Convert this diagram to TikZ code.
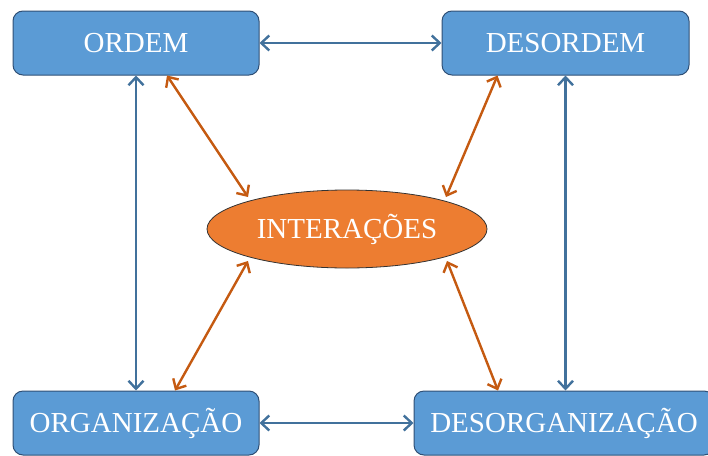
\documentclass[tikz,border=0pt]{standalone}
\usepackage{fontspec}
\setmainfont{Liberation Serif}
\usetikzlibrary{arrows.meta,shapes.geometric}
\definecolor{boxfill}{HTML}{5B9BD5}
\definecolor{boxline}{HTML}{2F4F75}
\definecolor{bluearrow}{HTML}{41719C}
\definecolor{orfill}{HTML}{ED7D31}
\definecolor{orarrow}{HTML}{C55A11}
\begin{document}
\begin{tikzpicture}[x=1pt,y=-1pt,
  box/.style={draw=boxline,line width=1pt,fill=boxfill,rounded corners=10pt,
    minimum height=64pt,inner sep=0pt,text=white,font=\fontsize{29}{32}\selectfont},
  blink/.style={draw=bluearrow,line width=2.4pt,{Straight Barb[length=8pt,width=15pt]}-{Straight Barb[length=8pt,width=15pt]}},
  olink/.style={draw=orarrow,line width=2.4pt,{Straight Barb[length=8pt,width=15pt]}-{Straight Barb[length=8pt,width=15pt]}}]
\useasboundingbox (0,0) rectangle (708,455);
\node[box,minimum width=246pt] (ord) at (136,43) {ORDEM};
\node[box,minimum width=247pt] (des) at (565.5,43) {DESORDEM};
\node[box,minimum width=246pt] (org) at (136,423) {ORGANIZAÇÃO};
\node[box,minimum width=300pt] (dso) at (564,423) {DESORGANIZAÇÃO};
\node[ellipse,draw=black!80,line width=0.8pt,fill=orfill,minimum width=280pt,minimum height=78pt,
  inner sep=0pt,text=white,font=\fontsize{29}{32}\selectfont] (int) at (347,229) {INTERAÇÕES};
\draw[blink] (ord.east) -- (des.west);
\draw[blink] (org.east) -- (org.east -| dso.west);
\draw[blink] (ord.south) -- (org.north);
\draw[blink] (des.south) -- (des.south |- dso.north);
\draw[olink] ([xshift=31pt]ord.south) -- ([shift={(-99,-32)}]int.center);
\draw[olink] ([xshift=-68pt]des.south) -- ([shift={(99,-32)}]int.center);
\draw[olink] ([xshift=39pt]org.north) -- ([shift={(-99,32)}]int.center);
\draw[olink] ([xshift=-66pt]dso.north) -- ([shift={(100,32)}]int.center);
\end{tikzpicture}
\end{document}
